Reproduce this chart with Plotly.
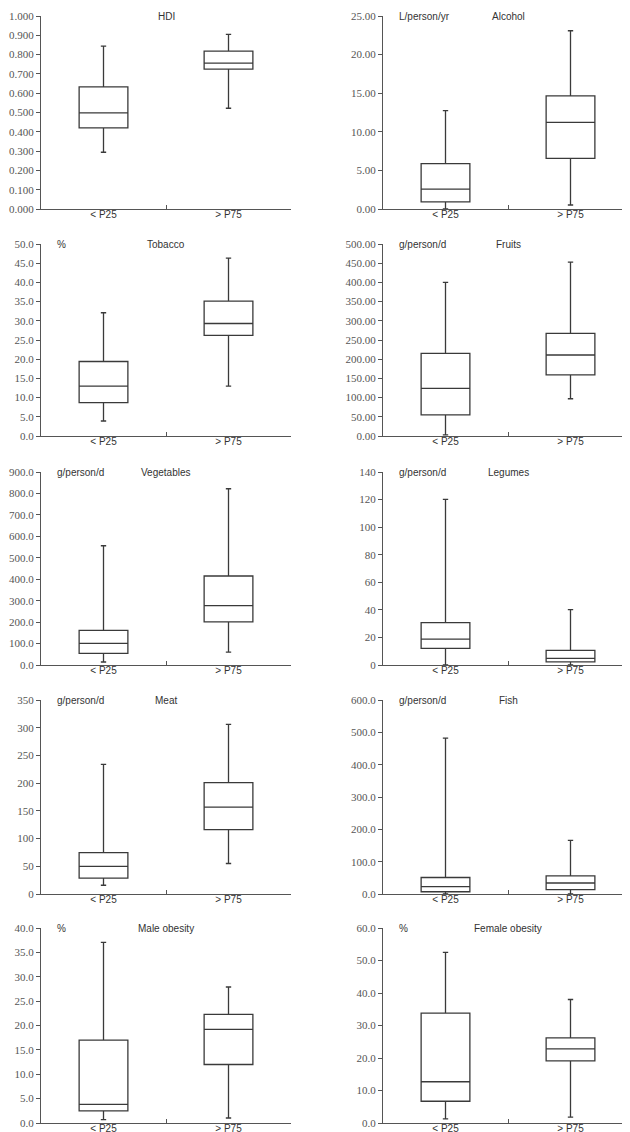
import plotly.graph_objects as go

groups = ["< P25", "> P75"]

titles = ["HDI", "Alcohol", "Tobacco", "Fruits", "Vegetables", "Legumes",
          "Meat", "Fish", "Male obesity", "Female obesity"]
units = ["", "L/person/yr", "%", "g/person/d", "g/person/d", "g/person/d",
         "g/person/d", "g/person/d", "%", "%"]
y_max = [1.0, 25, 50, 500, 900, 140, 350, 600, 40, 60]
y_step = [0.1, 5, 5, 50, 100, 20, 50, 100, 5, 10]
y_fmt = [".3f", ".2f", ".1f", ".2f", ".1f", "d", "d", ".1f", ".1f", ".1f"]

# [< P25, > P75] for each panel
lower = [[0.294, 0.522], [0.0, 0.52], [3.9, 13.0], [3, 97], [14, 60],
         [0, 0], [15.8, 55], [0, 0], [0.69, 1.03], [1.3, 1.8]]
q1 = [[0.420, 0.725], [0.91, 6.57], [8.7, 26.2], [55, 159], [54, 201],
      [12.0, 2.2], [28.5, 116], [7, 13.5], [2.47, 12.0], [6.7, 19.1]]
median = [[0.498, 0.756], [2.57, 11.22], [13.0, 29.3], [124, 211], [101, 277],
          [18.8, 4.8], [49.8, 156.6], [23, 34], [3.84, 19.2], [12.7, 22.8]]
q3 = [[0.633, 0.818], [5.87, 14.65], [19.4, 35.1], [215, 267], [161, 415],
      [30.8, 10.6], [74.7, 201], [51, 56], [17.0, 22.3], [33.8, 26.2]]
upper = [[0.844, 0.905], [12.74, 23.09], [32.1, 46.3], [400, 453], [556, 822],
         [120.2, 40.2], [233.8, 306], [482, 166], [37.05, 27.9], [52.5, 38.0]]

W, H = 630, 1132
x_pix = [(33, 283), (375, 625)]
y_pix = [(8, 201), (236, 428), (464, 657), (692, 886), (920, 1115)]

LINE = "#3a3a3a"
AX = "#555555"

fig = go.Figure()
layout = dict(width=W, height=H, margin=dict(l=0, r=0, t=0, b=0, autoexpand=False),
              paper_bgcolor="white", plot_bgcolor="white", showlegend=False)
annotations = []

for i in range(10):
    r, c = divmod(i, 2)
    n = "" if i == 0 else str(i + 1)
    xa, ya = "x" + n, "y" + n
    x0, x1 = x_pix[c]
    yt, yb = y_pix[r]
    fig.add_trace(go.Box(
        x=groups, q1=q1[i], median=median[i], q3=q3[i],
        lowerfence=lower[i], upperfence=upper[i],
        xaxis=xa, yaxis=ya, fillcolor="white",
        line=dict(color=LINE, width=1.3), whiskerwidth=0.11,
        width=0.39, boxpoints=False, hoverinfo="skip"))
    layout["xaxis" + n] = dict(
        domain=[x0 / W, x1 / W], anchor=ya, type="category", automargin=False,
        range=[-0.5, 1.5], showline=True, linecolor=AX, linewidth=1,
        ticks="inside", ticklen=4, tickcolor=AX, tickson="boundaries",
        ticklabelstandoff=-4,
        showgrid=False, zeroline=False, fixedrange=True,
        tickfont=dict(family="Liberation Sans", size=10, color="#333"))
    layout["yaxis" + n] = dict(
        domain=[1 - yb / H, 1 - yt / H], anchor=xa, automargin=False,
        range=[0, y_max[i]], tick0=0, dtick=y_step[i], tickformat=y_fmt[i],
        showline=True, linecolor=AX, linewidth=1, ticks="outside",
        ticklen=4, tickcolor=AX, showgrid=False, zeroline=False,
        fixedrange=True,
        tickfont=dict(family="Liberation Serif, DejaVu Serif, serif", size=11,
                      color="#555"))
    annotations.append(dict(
        xref="paper", yref="paper", x=(x0 + x1) / 2 / W, y=1 - yt / H,
        text=titles[i], showarrow=False, xanchor="center", yanchor="middle",
        font=dict(family="Liberation Sans", size=10, color="#333")))
    if units[i]:
        annotations.append(dict(
            xref="paper", yref="paper", x=(x0 + 14) / W, y=1 - yt / H,
            text=units[i], showarrow=False, xanchor="left", yanchor="middle",
            font=dict(family="Liberation Sans", size=10, color="#333")))

layout["annotations"] = annotations
fig.update_layout(**layout)
fig.write_html("out.html")
